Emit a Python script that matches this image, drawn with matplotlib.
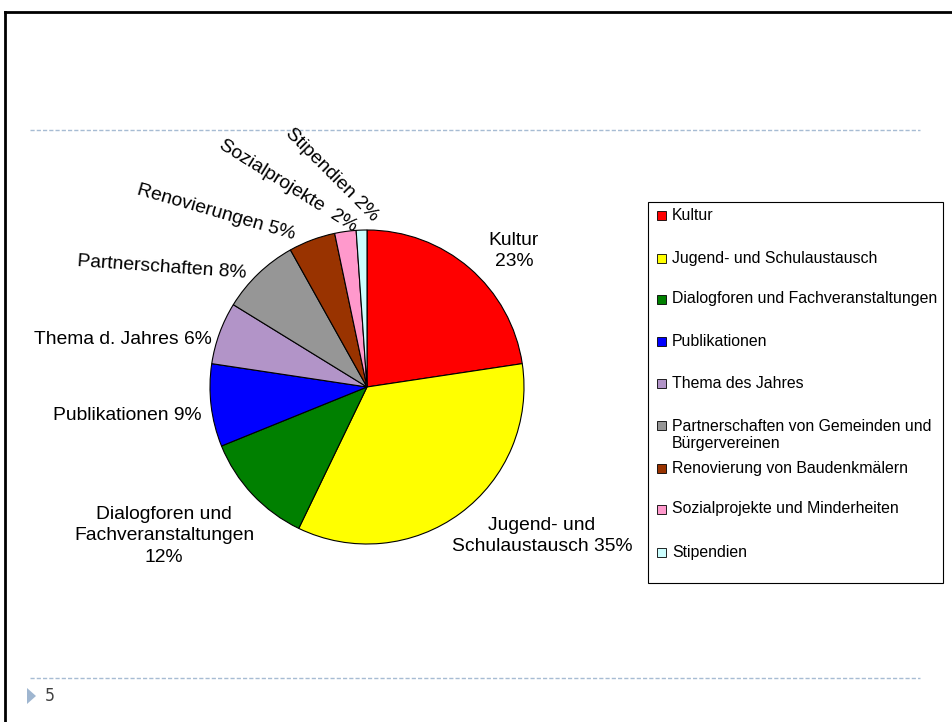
import matplotlib
matplotlib.use("Agg")
import matplotlib.pyplot as plt
from matplotlib.patches import Rectangle, Polygon
from matplotlib.lines import Line2D

plt.rcParams['font.family'] = ['Liberation Sans', 'DejaVu Sans']

# ---- data ----
categories = ["Kultur", "Jugend- und Schulaustausch", "Dialogforen und Fachveranstaltungen",
              "Publikationen", "Thema des Jahres",
              "Partnerschaften von Gemeinden und\nBürgervereinen",
              "Renovierung von Baudenkmälern", "Sozialprojekte und Minderheiten", "Stipendien"]
values = [22.6, 34.5, 11.7, 8.5, 6.4, 8.1, 4.8, 2.2, 1.1]
slice_labels = ["Kultur\n23%", "Jugend- und\nSchulaustausch 35%",
                "Dialogforen und\nFachveranstaltungen\n12%", "Publikationen 9%",
                "Thema d. Jahres 6%", "Partnerschaften 8%", "Renovierungen 5%",
                "Sozialprojekte  2%", "Stipendien 2%"]
colors = ["#FF0000", "#FFFF00", "#008000", "#0000FF", "#B294C8",
          "#969696", "#993300", "#FF99CC", "#CCFFFF"]

W, H = 953, 722
fig = plt.figure(figsize=(W / 100, H / 100), dpi=100)
ax = fig.add_axes([0, 0, 1, 1])

def py(y):  # pixel y (top-down) -> data y
    return H - y

# pie
cx, cy, r = 367, 387, 157
ax.pie(values, colors=colors, startangle=90, counterclock=False,
       center=(cx, py(cy)), radius=r,
       wedgeprops=dict(edgecolor="black", linewidth=0.8))
ax.set_xlim(0, W)
ax.set_ylim(0, H)
ax.set_aspect('auto')
ax.axis('off')

# slice labels (positions in pixels, rotation in degrees)
label_pos = [(514, 251, 0), (542, 536, 0), (164, 536, 0), (127, 416, 0),
             (123, 340, 0), (162, 267, -4), (216, 212, -16), (288, 186, -32),
             (332, 175, -45)]
for txt, (x, y, rot) in zip(slice_labels, label_pos):
    ax.text(x, py(y), txt, ha='center', va='center', fontsize=13.9,
            rotation=rot, rotation_mode='anchor', linespacing=1.33, color='black')

# legend (manual, Excel style)
ax.add_patch(Rectangle((648, py(583)), 943 - 648, 583 - 202, fill=False,
                       edgecolor='black', linewidth=0.8))
leg_y = [215, 258, 299, 341, 383, 425, 468, 509, 552]
for name, col, y in zip(categories, colors, leg_y):
    ax.add_patch(Rectangle((657, py(y) - 4.5), 9, 9, facecolor=col,
                           edgecolor='black', linewidth=0.6))
    ty = y + 10 * name.count('\n')
    ax.text(672, py(ty), name, ha='left', va='center',
            fontsize=11.4, linespacing=1.22)

# slide decorations
ax.add_line(Line2D([5, W + 5], [py(12), py(12)], color='black', linewidth=2))
ax.add_line(Line2D([5, 5], [py(12), -5], color='black', linewidth=2))
for yy in (130, 678):
    ax.add_line(Line2D([30, 920], [py(yy), py(yy)], color='#A7BCD3',
                       linewidth=1, linestyle=(0, (3, 1.5))))
ax.add_patch(Polygon([[27, py(688)], [27, py(704)], [36, py(696)]], closed=True,
                     facecolor='#9FB6D0', edgecolor='none'))
ax.text(45, py(696), "5", ha='left', va='center', fontsize=12.5, color='#404040',
        family=['DejaVu Sans'], stretch='condensed')

fig.savefig("out.png", dpi=100)
